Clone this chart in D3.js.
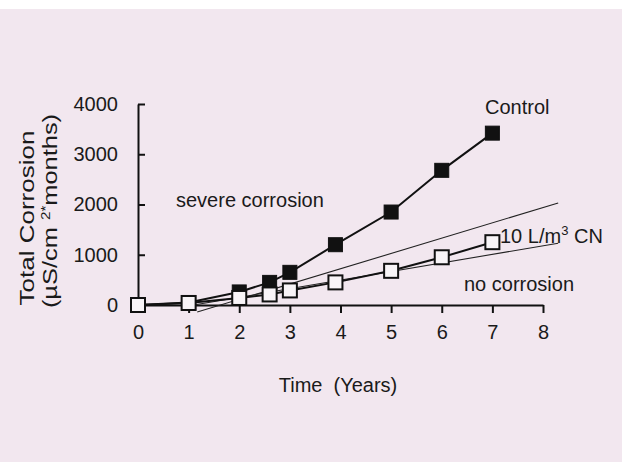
<!DOCTYPE html>
<html lang="en">
<head>
    <meta charset="UTF-8">
    <title>Total Corrosion vs Time</title>
    <style>
        body { margin: 0; background: #ffffff; }
        svg { display: block; font-family: "Liberation Sans", Arial, sans-serif; }
        .lbl { font-size: 20px; fill: #1a1a1a; white-space: pre; }
    </style>
</head>
<body>
    <svg id="chart" width="627" height="462"></svg>
    <script src="https://d3js.org/d3.v7.min.js"></script>
    <script>
        // data
        const years = [0, 1, 2, 2.6, 3, 3.9, 5, 6, 7];
        const control = [0, 50, 260, 450, 650, 1200, 1850, 2680, 3420];
        const treated = [0, 40, 140, 210, 290, 450, 680, 950, 1250];
        // two hand-drawn reference lines (severe / no corrosion boundary)
        const refUpperX = [1.17, 8.3];
        const refUpperY = [-140, 2030];
        const refLowerX = [1.1, 8.3];
        const refLowerY = [0, 1230];
        const xTicks = [0, 1, 2, 3, 4, 5, 6, 7, 8];
        const yTicks = [0, 1000, 2000, 3000, 4000];

        const svg = d3.select("#chart");
        svg.append("rect").attr("x", 0).attr("y", 9).attr("width", 622).attr("height", 453)
            .attr("fill", "#f2e7ef");

        const x = d3.scaleLinear().domain([0, 8]).range([138, 543]);
        const y = d3.scaleLinear().domain([0, 4000]).range([305, 104]);

        // axes
        const xAxis = svg.append("g").attr("transform", "translate(0,305)")
            .call(d3.axisBottom(x).tickValues(xTicks).tickSize(8).tickSizeOuter(0).tickPadding(22));
        const yAxis = svg.append("g").attr("transform", "translate(138,0)")
            .call(d3.axisLeft(y).tickValues(yTicks).tickFormat(d3.format("d"))
                .tickSize(-7).tickSizeOuter(0).tickPadding(20));
        [xAxis, yAxis].forEach(a => {
            a.select(".domain").attr("stroke", "#111").attr("stroke-width", 2);
            a.selectAll(".tick line").attr("stroke", "#111").attr("stroke-width", 2);
            a.selectAll(".tick text").attr("class", "lbl").attr("fill", "#1a1a1a")
                .style("font-size", "20px").style("font-family", "'Liberation Sans', Arial, sans-serif");
        });
        xAxis.selectAll(".tick text").attr("dy", "0.2em");

        const line = d3.line().x(d => x(d[0])).y(d => y(d[1]));

        // control series
        const ctrl = years.map((t, i) => [t, control[i]]);
        const trt = years.map((t, i) => [t, treated[i]]);
        svg.append("path").datum(ctrl).attr("d", line)
            .attr("fill", "none").attr("stroke", "#111").attr("stroke-width", 2);
        svg.selectAll(".ctrl").data(ctrl).enter().append("rect")
            .attr("x", d => x(d[0]) - 7).attr("y", d => y(d[1]) - 7)
            .attr("width", 14).attr("height", 14)
            .attr("fill", "#111").attr("stroke", "#111").attr("stroke-width", 1);

        // reference lines
        svg.append("path").datum(refUpperX.map((t, i) => [t, refUpperY[i]])).attr("d", line)
            .attr("fill", "none").attr("stroke", "#222").attr("stroke-width", 1.1);
        svg.append("path").datum(refLowerX.map((t, i) => [t, refLowerY[i]])).attr("d", line)
            .attr("fill", "none").attr("stroke", "#222").attr("stroke-width", 1.1);

        // 10 L/m3 CN series
        svg.append("path").datum(trt).attr("d", line)
            .attr("fill", "none").attr("stroke", "#111").attr("stroke-width", 2);
        svg.selectAll(".trt").data(trt).enter().append("rect")
            .attr("x", d => x(d[0]) - 7).attr("y", d => y(d[1]) - 7)
            .attr("width", 14).attr("height", 14)
            .attr("fill", "#f8f4f7").attr("stroke", "#111").attr("stroke-width", 2);

        // annotations
        svg.append("text").attr("class", "lbl").attr("x", 485).attr("y", 114).text("Control");
        svg.append("text").attr("class", "lbl").attr("x", 176).attr("y", 207).text("severe corrosion");
        svg.append("text").attr("class", "lbl").attr("x", 464).attr("y", 291).text("no corrosion");
        const cn = svg.append("text").attr("class", "lbl").attr("x", 500).attr("y", 243);
        cn.append("tspan").text("10 L/m");
        cn.append("tspan").attr("dy", -8).style("font-size", "13px").text("3");
        cn.append("tspan").attr("dy", 8).text(" CN");

        // axis titles
        svg.append("text").attr("class", "lbl").attr("text-anchor", "middle")
            .attr("transform", "translate(338,392)").text("Time  (Years)");
        svg.append("text").attr("class", "lbl").attr("text-anchor", "middle")
            .attr("transform", "translate(34,218) rotate(-90) scale(1.3,1)").text("Total Corrosion");
        const yt = svg.append("text").attr("class", "lbl").attr("text-anchor", "middle")
            .attr("transform", "translate(57,211) rotate(-90) scale(1.27,1)");
        yt.append("tspan").text("(\u00b5S/cm ");
        yt.append("tspan").attr("dy", -7).style("font-size", "12px").text("2*");
        yt.append("tspan").attr("dy", 7).text("months)");
    </script>
</body>
</html>
